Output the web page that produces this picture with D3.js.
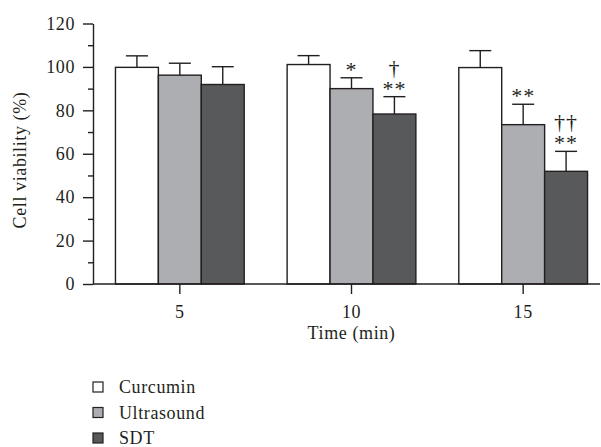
<!DOCTYPE html>
<html>
<head>
<meta charset="utf-8">
<script src="https://cdn.jsdelivr.net/npm/d3@7"></script>
<style>
  body { margin: 0; background: #fff; }
  text { font-family: "Liberation Serif", "Times New Roman", serif; fill: #231f20; letter-spacing: 0.6px; }
</style>
</head>
<body>
<div id="chart"></div>
<script>
// data
var times = ["5", "10", "15"];
var seriesNames = ["Curcumin", "Ultrasound", "SDT"];
var curcumin = [99.8, 101.1, 99.7];
var ultrasound = [96.2, 90.0, 73.4];
var sdt = [91.9, 78.3, 51.9];
var curcuminErr = [5.3, 4.1, 7.8];
var ultrasoundErr = [5.5, 5.0, 9.4];
var sdtErr = [8.2, 8.0, 9.2];
// significance marks, lines from top to bottom
var curcuminSig = [[], [], []];
var ultrasoundSig = [[], ["*"], ["**"]];
var sdtSig = [[], ["†", "**"], ["††", "**"]];
var yMajorTicks = [0, 20, 40, 60, 80, 100, 120];
var yMinorTicks = [10, 30, 50, 70, 90, 110];

var fills = ["#ffffff", "#adaeb1", "#58595b"];
var ink = "#231f20";

var svgWidth = 601, svgHeight = 447;
var svg = d3.select("#chart").append("svg").attr("width", svgWidth).attr("height", svgHeight);

var values = [curcumin, ultrasound, sdt];
var errs = [curcuminErr, ultrasoundErr, sdtErr];
var sigs = [curcuminSig, ultrasoundSig, sdtSig];

var rows = [];
times.forEach(function(t, i) {
  seriesNames.forEach(function(s, j) {
    rows.push({ time: t, series: s, idx: j, value: values[j][i], err: errs[j][i], sig: sigs[j][i] });
  });
});

// scales
var yScale = d3.scaleLinear().domain([0, 120]).range([284, 23.5]);
var xGroup = d3.scaleBand().domain(times).range([94, 609]).paddingInner(0.25).paddingOuter(0.125);
var xSeries = d3.scaleBand().domain(seriesNames).range([0, xGroup.bandwidth()]);

// y axis (major + minor ticks)
var yAxisG = svg.append("g").attr("transform", "translate(93,0)");
yAxisG.call(d3.axisLeft(yScale).tickValues(yMajorTicks).tickSize(10).tickSizeOuter(0).tickPadding(8));
yAxisG.append("g").call(d3.axisLeft(yScale).tickValues(yMinorTicks).tickSize(5).tickFormat(""))
  .select(".domain").remove();
yAxisG.selectAll("text").style("font-size", "18px").attr("fill", ink);
yAxisG.selectAll("line, path").attr("stroke", ink).attr("stroke-width", 1.4);

// bars
var barG = svg.append("g");
barG.selectAll("rect").data(rows).enter().append("rect")
  .attr("x", function(d) { return xGroup(d.time) + xSeries(d.series); })
  .attr("y", function(d) { return yScale(d.value); })
  .attr("width", xSeries.bandwidth())
  .attr("height", function(d) { return yScale(0) - yScale(d.value); })
  .attr("fill", function(d) { return fills[d.idx]; })
  .attr("stroke", ink).attr("stroke-width", 1.4);

// error bars (upper only)
var capHalf = 11;
var errG = barG.selectAll("g.err").data(rows).enter().append("g").attr("class", "err")
  .attr("stroke", ink).attr("stroke-width", 1.4);
errG.append("line")
  .attr("x1", function(d) { return xGroup(d.time) + xSeries(d.series) + xSeries.bandwidth() / 2; })
  .attr("x2", function(d) { return xGroup(d.time) + xSeries(d.series) + xSeries.bandwidth() / 2; })
  .attr("y1", function(d) { return yScale(d.value); })
  .attr("y2", function(d) { return yScale(d.value + d.err); });
errG.append("line")
  .attr("x1", function(d) { return xGroup(d.time) + xSeries(d.series) + xSeries.bandwidth() / 2 - capHalf; })
  .attr("x2", function(d) { return xGroup(d.time) + xSeries(d.series) + xSeries.bandwidth() / 2 + capHalf; })
  .attr("y1", function(d) { return yScale(d.value + d.err); })
  .attr("y2", function(d) { return yScale(d.value + d.err); });

// significance marks, one text per bar with a tspan per line
rows.filter(function(d) { return d.sig.length > 0; }).forEach(function(d) {
  var cx = xGroup(d.time) + xSeries(d.series) + xSeries.bandwidth() / 2;
  var base = yScale(d.value + d.err) - 1;
  var n = d.sig.length;
  var t = svg.append("text").attr("text-anchor", "middle")
    .style("font-size", "22px").style("letter-spacing", "1px");
  d.sig.forEach(function(s, k) {
    t.append("tspan").attr("x", cx).attr("y", base - (n - 1 - k) * 21).text(s);
  });
});

// x axis
var xAxisG = svg.append("g").attr("transform", "translate(0,284)");
xAxisG.call(d3.axisBottom(xGroup).tickSize(10).tickSizeOuter(0).tickPadding(11));
xAxisG.select(".domain").remove();
xAxisG.append("line").attr("x1", 93).attr("x2", 600).attr("y1", 0).attr("y2", 0);
xAxisG.selectAll("line").attr("stroke", ink).attr("stroke-width", 1.4);
xAxisG.selectAll("text").style("font-size", "18px").attr("fill", ink);

// axis titles
svg.append("text").attr("x", xGroup("10") + xGroup.bandwidth() / 2).attr("y", 339)
  .attr("text-anchor", "middle").style("font-size", "18px").text("Time (min)");
svg.append("text").attr("transform", "translate(26,160) rotate(-90)")
  .attr("text-anchor", "middle").style("font-size", "18px").text("Cell viability (%)");

// legend
var legend = svg.append("g").selectAll("g").data(seriesNames).enter().append("g")
  .attr("transform", function(d, i) { return "translate(93," + (382 + i * 25.5) + ")"; });
legend.append("rect").attr("width", 10).attr("height", 10)
  .attr("fill", function(d, i) { return fills[i]; })
  .attr("stroke", ink).attr("stroke-width", 1.2);
legend.append("text").attr("x", 26).attr("y", 11).style("font-size", "18px").text(function(d) { return d; });
</script>
</body>
</html>
